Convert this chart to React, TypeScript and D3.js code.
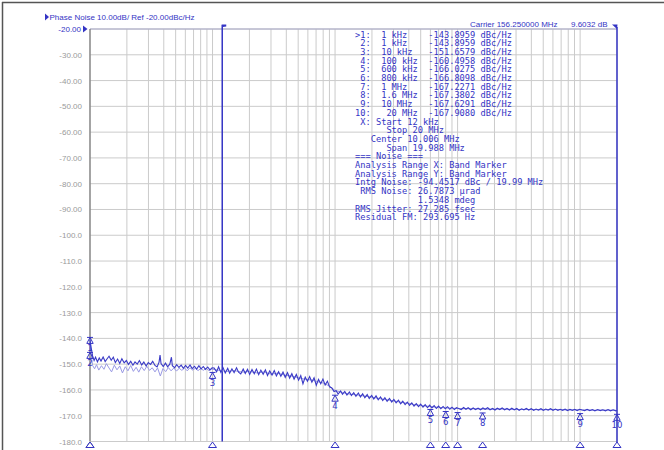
import React from "react";
import * as d3 from "d3";

// ---- data ----
const yTicks = [-20, -30, -40, -50, -60, -70, -80, -90, -100, -110, -120, -130, -140, -150, -160, -170, -180];

// [frequency kHz, dBc/Hz]
const darkTrace: [number, number][] = [
  [1.0, -140.5], [1.01, -142.0], [1.03, -144.5], [1.05, -146.8], [1.08, -148.6], [1.11, -147.3], [1.15, -149.1],
  [1.19, -147.6], [1.23, -148.8], [1.28, -147.2], [1.33, -149.0], [1.38, -147.9], [1.43, -146.9], [1.49, -148.5],
  [1.55, -147.3], [1.61, -149.4], [1.68, -148.0], [1.75, -149.7], [1.82, -147.9], [1.9, -149.5], [1.98, -148.6],
  [2.06, -150.1], [2.15, -148.9], [2.24, -150.4], [2.33, -149.1], [2.43, -150.0], [2.53, -148.6], [2.64, -150.3],
  [2.75, -149.2], [2.87, -150.7], [2.99, -149.4], [3.12, -150.1], [3.25, -148.9], [3.39, -150.5], [3.53, -151.1],
  [3.66, -149.2], [3.73, -146.5], [3.8, -149.8], [3.96, -150.9], [4.13, -149.6], [4.3, -151.0], [4.48, -150.0],
  [4.62, -147.3], [4.7, -150.6], [4.9, -151.4], [5.1, -150.2], [5.32, -151.3], [5.55, -150.4], [5.78, -151.6],
  [6.03, -150.5], [6.28, -151.5], [6.55, -150.3], [6.83, -151.7], [7.12, -150.8], [7.42, -151.9], [7.74, -150.6],
  [8.06, -151.8], [8.41, -150.9], [8.76, -152.0], [9.13, -151.1], [9.52, -152.2], [9.92, -151.4],
  [10.3, -151.5], [10.8, -153.0], [11.2, -151.0], [11.7, -153.2], [12.2, -151.4], [12.7, -153.4], [13.3, -151.6],
  [13.8, -153.5], [14.4, -151.8], [15.0, -153.3], [15.7, -151.4], [16.3, -153.1], [17.0, -153.8], [17.8, -151.9],
  [18.5, -153.6], [19.3, -152.0], [20.1, -154.0], [21.0, -152.1], [21.9, -153.7], [22.8, -151.9], [23.8, -154.1],
  [24.8, -152.3], [25.9, -153.9], [27.0, -152.2], [28.1, -154.4], [29.3, -152.6], [30.6, -154.2], [31.9, -152.5],
  [33.2, -154.6], [34.6, -152.9], [36.1, -154.7], [37.6, -153.1], [39.2, -155.1], [40.9, -153.3], [42.6, -155.4],
  [44.4, -153.7], [46.3, -155.8], [48.3, -154.0], [50.4, -156.2], [52.5, -154.4], [54.7, -157.6], [57.1, -155.0],
  [59.5, -156.6], [62.0, -154.8], [64.7, -157.0], [67.4, -155.3], [70.3, -158.2], [73.3, -155.9], [76.4, -157.6],
  [79.6, -155.8], [83.0, -158.1], [86.6, -156.6], [90.2, -158.8], [94.1, -159.2], [98.1, -160.6],
  [102, -160.3], [106, -161.6], [111, -160.4], [115, -161.7], [120, -160.6], [125, -162.0], [131, -160.8],
  [136, -162.2], [142, -161.1], [148, -162.5], [155, -161.2], [161, -162.7], [168, -161.5], [175, -163.0],
  [183, -161.8], [190, -163.3], [199, -162.1], [207, -163.5], [216, -162.3], [225, -163.8], [235, -162.7],
  [245, -164.1], [255, -163.0], [266, -164.4], [278, -163.3], [290, -164.7], [302, -163.7], [315, -165.0],
  [329, -164.0], [343, -165.4], [357, -164.4], [373, -165.7], [389, -164.7], [405, -166.0], [423, -165.0],
  [441, -166.3], [460, -165.3], [480, -166.5], [500, -165.5], [522, -166.7], [544, -165.7], [568, -166.9],
  [592, -165.9], [617, -167.0], [644, -166.1], [671, -167.2], [700, -166.3], [730, -167.3], [762, -166.4],
  [794, -167.3], [828, -166.5], [864, -167.5], [901, -166.7], [940, -167.6], [980, -166.9],
  [1020, -167.2], [1070, -167.6], [1120, -166.8], [1170, -167.5], [1220, -166.9], [1280, -167.7], [1340, -167.0],
  [1400, -167.6], [1470, -167.1], [1540, -167.7], [1610, -167.0], [1680, -167.5], [1760, -166.9], [1840, -167.7],
  [1930, -167.2], [2020, -167.8], [2110, -167.1], [2210, -167.6], [2310, -167.0], [2420, -167.7], [2530, -167.2],
  [2650, -167.8], [2770, -167.1], [2900, -167.7], [3040, -167.2], [3180, -167.9], [3330, -167.3], [3480, -167.7],
  [3640, -167.2], [3810, -167.8], [3990, -167.3], [4180, -167.9], [4370, -167.4], [4570, -167.8], [4790, -167.3],
  [5010, -167.9], [5240, -167.4], [5480, -167.8], [5740, -167.3], [6010, -167.9], [6290, -167.4], [6580, -167.9],
  [6880, -167.5], [7200, -167.9], [7540, -167.4], [7890, -168.0], [8260, -167.5], [8640, -167.9], [9040, -167.5],
  [9460, -168.0], [9900, -167.5], [10400, -167.8], [10900, -168.0], [11400, -167.5], [12000, -168.0],
  [12600, -167.6], [13200, -168.1], [13900, -167.6], [14600, -168.0], [15300, -167.7], [16100, -168.1],
  [16900, -167.6], [17700, -168.1], [18600, -167.7], [19500, -168.1], [20000, -167.9],
];

const lightTrace: [number, number][] = [
  [1.0, -141.0], [1.02, -146.0], [1.05, -150.5], [1.09, -151.8], [1.13, -150.2], [1.18, -152.3], [1.24, -150.6],
  [1.3, -152.0], [1.36, -149.8], [1.43, -151.5], [1.5, -153.0], [1.58, -150.4], [1.66, -152.2], [1.75, -150.7],
  [1.84, -153.4], [1.94, -151.0], [2.04, -152.6], [2.15, -150.5], [2.26, -152.8], [2.38, -151.2], [2.5, -153.1],
  [2.63, -151.0], [2.77, -152.5], [2.91, -150.8], [3.06, -152.4], [3.22, -151.4], [3.39, -153.0], [3.56, -151.5],
  [3.75, -154.6], [3.94, -151.7], [4.15, -152.9], [4.36, -151.3], [4.59, -152.6], [4.83, -151.5], [5.08, -152.7],
  [5.34, -151.6], [5.62, -152.4], [5.91, -151.5], [6.22, -152.6], [6.54, -151.4], [6.88, -152.3], [7.24, -151.6],
  [7.62, -152.5], [8.01, -151.7], [8.43, -152.4], [8.87, -151.6], [9.33, -152.5], [9.81, -151.9],
  [11, -152.3], [13, -152.8], [15, -152.5], [17.5, -153.1], [20, -152.8], [23, -153.4], [26.5, -153.0],
  [30, -153.9], [34, -153.5], [39, -154.3], [44, -154.6], [50, -155.2], [57, -155.9], [64, -156.1], [72, -156.8],
  [80, -157.3], [90, -158.5], [100, -160.2], [115, -161.0], [130, -161.6], [150, -161.9], [175, -162.4],
  [200, -162.8], [240, -163.5], [280, -164.0], [330, -164.6], [390, -165.2], [460, -165.8], [540, -166.2],
  [640, -166.6], [760, -166.9], [900, -167.1], [1100, -167.3], [1400, -167.3], [1800, -167.5], [2300, -167.4],
  [3000, -167.6], [4000, -167.6], [5000, -167.7], [6500, -167.6], [8000, -167.8], [10000, -167.7],
  [13000, -167.9], [16000, -167.8], [20000, -167.9],
];

const markerIds = ["1", "2", "3", "4", "5", "6", "7", "8", "9", "10"];
const markerFreqKHz = [1, 1, 10, 100, 600, 800, 1000, 1600, 10000, 20000];
const markerValues = [-143.8959, -143.8959, -151.6579, -160.4958, -166.0275, -166.8098, -167.2271, -167.3802, -167.6291, -167.908];

const infoLines = [
  ">1:  1 kHz    -143.8959 dBc/Hz",
  " 2:  1 kHz    -143.8959 dBc/Hz",
  " 3:  10 kHz   -151.6579 dBc/Hz",
  " 4:  100 kHz  -160.4958 dBc/Hz",
  " 5:  600 kHz  -166.0275 dBc/Hz",
  " 6:  800 kHz  -166.8098 dBc/Hz",
  " 7:  1 MHz    -167.2271 dBc/Hz",
  " 8:  1.6 MHz  -167.3802 dBc/Hz",
  " 9:  10 MHz   -167.6291 dBc/Hz",
  "10:   20 MHz  -167.9080 dBc/Hz",
  " X: Start 12 kHz",
  "      Stop 20 MHz",
  "   Center 10.006 MHz",
  "      Span 19.988 MHz",
  "=== Noise ===",
  "Analysis Range X: Band Marker",
  "Analysis Range Y: Band Marker",
  "Intg Noise: -94.4517 dBc / 19.99 MHz",
  " RMS Noise: 26.7873 \u00b5rad",
  "            1.5348 mdeg",
  "RMS Jitter: 27.285 fsec",
  "Residual FM: 293.695 Hz",
];

const bandStartKHz = 12;
const bandStopKHz = 20000;

const titleText = "Phase Noise 10.00dB/ Ref -20.00dBc/Hz";
const carrierText = "Carrier 156.250000 MHz";
const refLevelText = "9.6032 dB";

export default function App() {
  const W = 664, H = 450;
  const left = 90, right = 617, top = 29, bottom = 441.5;
  const x = d3.scaleLog().domain([1, 20000]).range([left, right]);
  const y = d3.scaleLinear().domain([-20, -180]).range([top, bottom]);
  const line = d3.line<[number, number]>().x((d) => x(d[0])).y((d) => y(d[1]));
  const blue = "#3434c4";
  const xGrid = x.ticks();
  const fmt = (v: number) => (Math.abs(v) >= 100 ? v.toFixed(1) : v.toFixed(2));

  return (
    <svg width={W} height={H} style={{ position: "fixed", left: 0, top: 0, background: "#fff" }}>
      <rect x={0} y={0} width={W} height={H} fill="#fff" />
      <line x1={2} y1={2.5} x2={W} y2={2.5} stroke="#555" strokeWidth={1.5} />
      <line x1={2.5} y1={2} x2={2.5} y2={H} stroke="#555" strokeWidth={1.5} />

      {/* grid */}
      {xGrid.map((f, i) => (
        <line key={"gx" + i} x1={x(f)} x2={x(f)} y1={top} y2={bottom} stroke="#cbcbcb" strokeWidth={1} />
      ))}
      {yTicks.map((v) => (
        <line key={"gy" + v} x1={left} x2={right} y1={y(v)} y2={y(v)} stroke="#cbcbcb" strokeWidth={1} />
      ))}
      <line x1={left} x2={right} y1={top} y2={top} stroke="#a8a8c8" strokeWidth={1} />
      <line x1={left} x2={left} y1={top} y2={bottom} stroke="#777" strokeWidth={1.2} />

      {/* y labels */}
      {yTicks.map((v, i) => (
        <text key={"yl" + v} x={i === 0 ? 81 : 82} y={y(v) + 3} textAnchor="end" fontFamily="Liberation Sans, Arial, sans-serif"
          fontSize={8} fill={i === 0 ? blue : "#9a9a9a"}>{fmt(v)}</text>
      ))}
      <path d={`M83,${top - 3.5} L87.5,${top} L83,${top + 3.5} Z`} fill={blue} />

      {/* header */}
      <path d="M45,13.5 L49,17 L45,20.5 Z" fill={blue} />
      <text x={49.5} y={20} fontFamily="Liberation Sans, Arial, sans-serif" fontSize={8} fill={blue}>{titleText}</text>
      <text x={470} y={27} fontFamily="Liberation Sans, Arial, sans-serif" fontSize={8} fill={blue}>{carrierText}</text>
      <text x={571} y={27} fontFamily="Liberation Sans, Arial, sans-serif" fontSize={8} fill={blue}>{refLevelText}</text>

      {/* info panel */}
      {infoLines.map((s, i) => (
        <text key={"il" + i} x={355} y={37.5 + i * 8.7} fontFamily="DejaVu Sans Mono, monospace" fontSize={8.7}
          fill={blue} style={{ whiteSpace: "pre" }} xmlSpace="preserve">{s}</text>
      ))}

      {/* band markers */}
      <line x1={x(bandStartKHz)} x2={x(bandStartKHz)} y1={25} y2={bottom} stroke={blue} strokeWidth={1.5} />
      <path d={`M${x(bandStartKHz) - 0.7},24.5 L${x(bandStartKHz) + 4},24.5 L${x(bandStartKHz) + 4},26.5 L${x(bandStartKHz) + 0.7},27 Z`} fill={blue} />
      <line x1={x(bandStopKHz)} x2={x(bandStopKHz)} y1={27} y2={bottom + 5} stroke={blue} strokeWidth={1.5} />
      <path d={`M${x(bandStopKHz) + 0.5},24.5 L${x(bandStopKHz) - 5},24.5 L${x(bandStopKHz)},29 Z`} fill={blue} />

      {/* traces */}
      <path d={line(lightTrace) || ""} fill="none" stroke="#9a9ae4" strokeWidth={1} />
      <path d={line(darkTrace) || ""} fill="none" stroke="#3a3ac6" strokeWidth={1.1} />

      {/* markers on trace */}
      {markerIds.map((id, i) => {
        const mx = x(markerFreqKHz[i]);
        const my = y(markerValues[i]) + (i === 0 ? -15 : 0);
        return (
          <g key={"mk" + id}>
            <path d={`M${mx - 3},${my + 4} L${mx + 3},${my + 4} M${mx},${my + 4} L${mx - 3.2},${my + 10} L${mx + 3.2},${my + 10} Z`}
              fill="none" stroke={blue} strokeWidth={1} />
            <text x={mx} y={my + 17.5} textAnchor="middle" fontFamily="DejaVu Sans, sans-serif" fontSize={8.5} fill={blue}>{id}</text>
          </g>
        );
      })}

      {/* markers on axis */}
      {markerIds.map((id, i) => {
        const mx = x(markerFreqKHz[i]);
        return (
          <path key={"bm" + id} d={`M${mx},${bottom + 0.5} L${mx - 4},${bottom + 6} L${mx + 4},${bottom + 6} Z`}
            fill={i === 0 ? "#22227a" : "#fff"} stroke={i === 0 ? "#22227a" : blue} strokeWidth={1} />
        );
      })}
    </svg>
  );
}
